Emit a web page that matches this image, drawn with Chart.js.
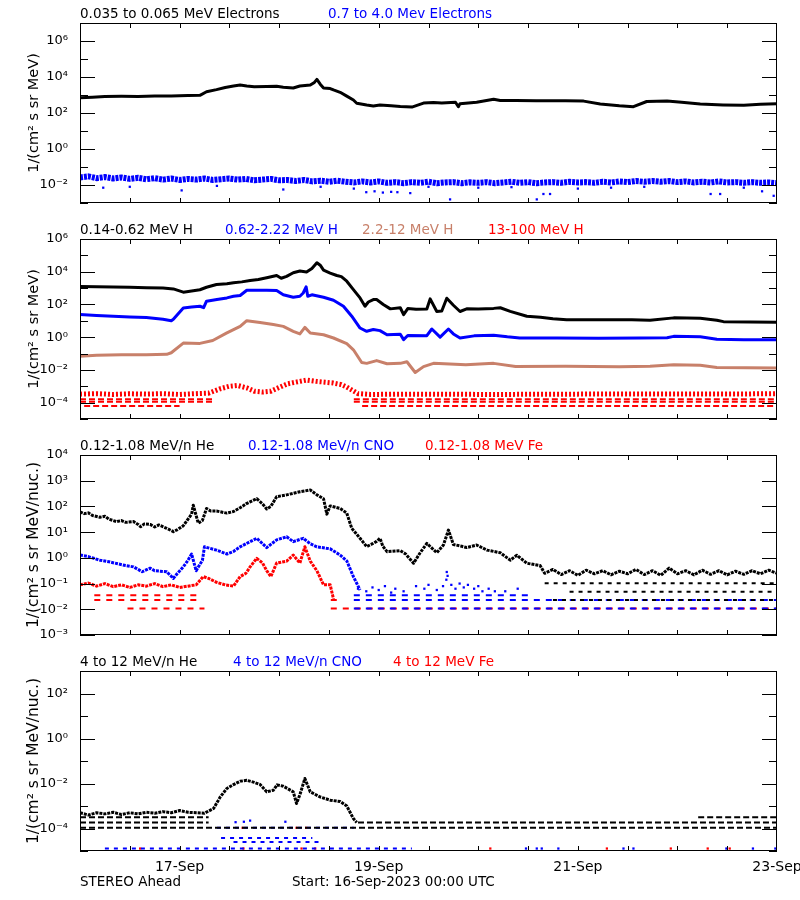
<!DOCTYPE html>
<html>
<head>
<meta charset="utf-8">
<script src="https://cdn.jsdelivr.net/npm/chart.js@4.4.0/dist/chart.umd.min.js"></script>
<style>
body { margin: 0; background: #fff; }
#page { position: relative; width: 800px; height: 900px; overflow: hidden; background: #fff;
        font-family: "DejaVu Sans", sans-serif; font-size: 13.5px; }
#page canvas { position: absolute; left: 0; }
.t { position: absolute; white-space: nowrap; line-height: 16px; }
</style>
</head>
<body>
<div id="page">
  <canvas id="c1" width="830" height="200" style="top:13px;width:830px;height:200px"></canvas>
  <canvas id="c2" width="830" height="200" style="top:229px;width:830px;height:200px"></canvas>
  <canvas id="c3" width="830" height="200" style="top:445px;width:830px;height:200px"></canvas>
  <canvas id="c4" width="830" height="220" style="top:661px;width:830px;height:220px"></canvas>

  <div class="t" style="top:5px;left:80px;color:#000">0.035 to 0.065 MeV Electrons</div>
  <div class="t" style="top:5px;left:328px;color:#0000ff">0.7 to 4.0 Mev Electrons</div>

  <div class="t" style="top:221px;left:80px;color:#000">0.14-0.62 MeV H</div>
  <div class="t" style="top:221px;left:225px;color:#0000ff">0.62-2.22 MeV H</div>
  <div class="t" style="top:221px;left:362px;color:#c8806a">2.2-12 MeV H</div>
  <div class="t" style="top:221px;left:488px;color:#ff0000">13-100 MeV H</div>

  <div class="t" style="top:437px;left:80px;color:#000">0.12-1.08 MeV/n He</div>
  <div class="t" style="top:437px;left:248px;color:#0000ff">0.12-1.08 MeV/n CNO</div>
  <div class="t" style="top:437px;left:425px;color:#ff0000">0.12-1.08 MeV Fe</div>

  <div class="t" style="top:653px;left:80px;color:#000">4 to 12 MeV/n He</div>
  <div class="t" style="top:653px;left:233px;color:#0000ff">4 to 12 MeV/n CNO</div>
  <div class="t" style="top:653px;left:393px;color:#ff0000">4 to 12 MeV Fe</div>

  <div class="t" style="top:873px;left:80px">STEREO Ahead</div>
  <div class="t" style="top:873px;left:292px">Start: 16-Sep-2023 00:00 UTC</div>
</div>

<script>
// x is hours after 16-Sep-2023 00:00, y values are log10 of the flux
const hourTicks = [12, 24, 36, 48, 60, 72, 84, 96, 108, 120, 132, 144, 156];
const dayHours = [24, 72, 120, 168];
const dayLabels = ['17-Sep', '19-Sep', '21-Sep', '23-Sep'];

// ---- panel 1 : electrons
const elecLow = [[0,2.85],[3,2.88],[6,2.92],[10,2.93],[14,2.92],[18,2.94],[22,2.95],[26,2.97],[28.9,2.98],[30.5,3.18],[32.9,3.3],[35,3.42],[37,3.5],[38.6,3.55],[40.2,3.5],[42,3.46],[45,3.47],[47.4,3.48],[49,3.43],[51.4,3.39],[53,3.5],[55.5,3.55],[56.5,3.7],[57.1,3.87],[57.9,3.6],[58.7,3.39],[60.3,3.36],[61.1,3.28],[62.7,3.15],[64.3,2.94],[65.9,2.72],[66.7,2.54],[69.1,2.44],[70.7,2.39],[72.3,2.44],[75,2.4],[77.2,2.36],[80,2.33],[82.8,2.55],[85.2,2.58],[87.2,2.55],[90.5,2.6],[91.2,2.35],[91.6,2.52],[95.6,2.6],[99.7,2.76],[101.3,2.7],[105,2.69],[110,2.68],[117,2.68],[121.4,2.66],[125.4,2.5],[130,2.4],[133.4,2.35],[136.6,2.64],[141.5,2.66],[145,2.6],[149.5,2.5],[155,2.45],[160,2.43],[164,2.48],[168,2.52]];
const elecHigh = [[0,-1.58],[2,-1.52],[4,-1.62],[6,-1.56],[8,-1.64],[10,-1.58],[12,-1.66],[14,-1.6],[16,-1.68],[18,-1.62],[20,-1.7],[22,-1.64],[24,-1.72],[26,-1.66],[28,-1.7],[30,-1.64],[32,-1.72],[34,-1.68],[36,-1.64],[38,-1.7],[40,-1.66],[42,-1.74],[44,-1.7],[46,-1.66],[48,-1.74],[50,-1.72],[52,-1.78],[54,-1.72],[56,-1.8],[58,-1.76],[60,-1.82],[62,-1.76],[64,-1.82],[66,-1.86],[68,-1.8],[70,-1.86],[72,-1.8],[74,-1.88],[76,-1.84],[78,-1.9],[80,-1.84],[82,-1.88],[84,-1.82],[86,-1.9],[88,-1.86],[90,-1.84],[92,-1.9],[94,-1.85],[96,-1.88],[98,-1.84],[100,-1.9],[102,-1.86],[104,-1.82],[106,-1.88],[108,-1.84],[110,-1.9],[112,-1.86],[114,-1.84],[116,-1.88],[118,-1.82],[120,-1.86],[122,-1.84],[124,-1.88],[126,-1.82],[128,-1.86],[130,-1.8],[132,-1.84],[134,-1.78],[136,-1.82],[138,-1.78],[140,-1.82],[142,-1.78],[144,-1.84],[146,-1.8],[148,-1.86],[150,-1.82],[152,-1.86],[154,-1.8],[156,-1.86],[158,-1.84],[160,-1.88],[162,-1.84],[164,-1.88],[166,-1.86],[168,-1.9]];
const elecHighLow = [[5.6,-2.15],[12,-2.1],[24.5,-2.3],[33,-2.05],[49,-2.25],[58,-2.1],[66,-2.2],[69,-2.4],[71,-2.35],[73,-2.42],[75,-2.38],[76.5,-2.4],[79.6,-2.45],[84,-2.1],[89.2,-2.8],[96,-2.15],[104,-2.12],[110.1,-2.8],[111.7,-2.5],[113.3,-2.5],[120,-2.2],[128,-2.15],[136,-2.1],[152,-2.5],[154.3,-2.5],[160,-2.15],[164.4,-2.35],[167.2,-2.6]];

// ---- panel 2 : protons
const hLow = [[0,3.1],[4,3.08],[8,3.06],[12,3.05],[16,3.02],[20,3.0],[22.5,2.95],[24.9,2.75],[26.9,2.82],[28.9,2.9],[30.5,3.05],[32.9,3.22],[35.4,3.27],[37,3.32],[39,3.38],[41,3.47],[43,3.52],[45,3.63],[47.4,3.77],[48.5,3.6],[49.8,3.72],[51.4,3.94],[53,4.04],[54.6,3.98],[55.9,4.2],[57.1,4.55],[57.9,4.4],[58.7,4.1],[60.3,3.92],[61.9,3.77],[63,3.7],[64.3,3.42],[65.9,2.91],[67.5,2.4],[68.7,1.89],[69.5,2.15],[70.7,2.3],[71.5,2.3],[73.1,2.0],[74.8,1.73],[77.2,1.8],[78,1.38],[79,1.75],[81,1.7],[83.6,1.72],[84.4,2.34],[86,1.57],[87.2,1.6],[88.4,2.38],[90,1.95],[91.6,1.57],[93.2,1.73],[96,1.72],[99.7,1.76],[101.3,1.8],[103.7,1.58],[107.7,1.28],[111,1.22],[114,1.12],[117.3,1.07],[125,1.07],[133,1.06],[137.4,1.04],[143.1,1.18],[149.5,1.16],[153.5,1.04],[155.1,0.95],[168,0.92]];
const hMid = [[0,1.38],[4,1.32],[8,1.28],[12,1.24],[16,1.2],[20,1.1],[22,1.01],[22.5,1.1],[24.9,1.79],[26.9,1.85],[28.9,1.89],[29.8,1.8],[30.5,2.2],[33,2.3],[35.4,2.4],[37,2.5],[38.6,2.55],[40.2,2.87],[43,2.87],[45,2.87],[47.4,2.85],[49,2.59],[51.4,2.44],[53,2.5],[53.8,2.7],[54.5,3.08],[54.9,2.5],[55.9,2.59],[58.7,2.44],[61.1,2.26],[63.5,1.89],[65.5,1.28],[67.5,0.56],[69.1,0.36],[70.7,0.47],[72.3,0.4],[74,0.15],[77.2,0.18],[78,-0.15],[79,0.1],[83.6,0.09],[84.8,0.5],[86.8,0.0],[88.8,0.5],[90,0.2],[91.6,-0.05],[95,0.08],[99.7,0.12],[103,0.02],[106,-0.05],[115,-0.05],[125,-0.06],[135,-0.05],[141.5,-0.04],[143.1,0.05],[149.5,0.02],[153.5,-0.12],[160,-0.15],[168,-0.15]];
const hHigh = [[0,-1.17],[4,-1.1],[10,-1.07],[16,-1.08],[20.9,-1.05],[22,-0.95],[24.9,-0.36],[28.9,-0.38],[32,-0.2],[35.4,0.26],[38.6,0.66],[40.2,1.01],[43.4,0.9],[46.6,0.77],[49,0.66],[51.4,0.36],[53,0.2],[54.2,0.6],[55.5,0.25],[58.7,0.15],[61.1,-0.05],[64.3,-0.4],[65.9,-0.77],[67.9,-1.55],[69.1,-1.6],[71.5,-1.43],[74,-1.62],[77.2,-1.6],[78.8,-1.5],[80.8,-2.16],[82.8,-1.8],[85.2,-1.6],[93,-1.69],[99.7,-1.6],[105,-1.79],[117,-1.77],[130,-1.8],[137.4,-1.77],[143.1,-1.69],[149.5,-1.72],[153.5,-1.85],[168,-1.89]];
const hTop = [[0,-3.48],[4,-3.45],[8,-3.5],[12,-3.46],[16,-3.48],[20,-3.45],[24,-3.5],[28,-3.45],[31,-3.42],[33.8,-3.15],[36,-3.0],[38,-2.95],[40.2,-3.1],[42,-3.3],[44,-3.35],[46,-3.3],[48.2,-3.05],[50,-2.85],[52,-2.75],[54.7,-2.62],[57,-2.7],[59,-2.75],[61,-2.8],[63,-2.9],[64.3,-3.05],[66,-3.3],[67,-3.45],[70,-3.5],[80,-3.48],[100,-3.5],[120,-3.48],[140,-3.47],[160,-3.47],[168,-3.45]];
const hTopRows = [[-3.79, [[0,32],[66,168]]], [-3.94, [[0,32],[66,168]]], [-4.2, [[1,24],[68,168]]]];

// ---- panel 3 : low energy ions
const heLow = [[0,1.79],[1,1.72],[2,1.75],[3,1.65],[4.8,1.58],[6,1.62],[7,1.5],[8.8,1.41],[10,1.45],[11,1.38],[12.9,1.41],[14,1.3],[14.6,1.21],[15.5,1.32],[16.9,1.3],[18,1.2],[19,1.28],[20.9,1.15],[22.5,1.02],[23.5,1.1],[24.9,1.25],[26,1.5],[26.9,1.7],[27.3,2.05],[28.5,1.35],[29.5,1.45],[30.5,1.92],[31.5,1.82],[32.9,1.82],[35.4,1.74],[37,1.8],[38.6,1.95],[40,2.1],[41,2.18],[42.6,2.3],[44,2.1],[45,1.9],[46,2.0],[47.4,2.38],[49.8,2.45],[51.4,2.51],[53,2.57],[54.2,2.6],[55.5,2.64],[56.5,2.52],[57.1,2.45],[58.7,2.3],[59.5,1.7],[60.3,2.02],[62.7,1.92],[64.3,1.74],[65.5,1.15],[67.5,0.76],[69.1,0.44],[70.5,0.55],[71.5,0.64],[72.3,0.76],[73,0.45],[74,0.24],[77.2,0.28],[78.5,0.15],[80.4,-0.21],[82,0.2],[83.6,0.56],[85,0.35],[86,0.2],[87.6,0.5],[88.8,1.08],[90,0.52],[92,0.45],[93.2,0.4],[95.6,0.5],[98.1,0.3],[99.7,0.25],[101.3,0.2],[103.7,-0.09],[105.3,0.1],[107.7,-0.21],[110.9,-0.3],[112,-0.6],[114,-0.45],[116,-0.65],[118,-0.5],[120,-0.68],[122,-0.48],[124,-0.62],[126,-0.5],[128,-0.66],[130,-0.52],[132,-0.62],[134,-0.45],[136,-0.65],[138,-0.5],[140,-0.68],[142,-0.4],[144,-0.62],[146,-0.5],[148,-0.66],[150,-0.48],[152,-0.64],[154,-0.5],[156,-0.66],[158,-0.52],[160,-0.64],[162,-0.5],[164,-0.62],[166,-0.48],[168,-0.6]];
const heLowRows = [[-0.99, [[112,168]]], [-1.32, [[118,168]]], [-1.64, [[114,168]]]];
const cnoLow = [[0,0.11],[2,0.05],[4.8,-0.09],[7,-0.15],[8.8,-0.22],[11,-0.3],[12.9,-0.35],[14,-0.45],[15,-0.54],[16.9,-0.4],[18,-0.5],[20.9,-0.54],[22.5,-0.8],[23.5,-0.6],[24.9,-0.35],[26,-0.1],[26.9,0.15],[28,-0.5],[28.9,-0.25],[29.5,-0.1],[30,0.43],[32.9,0.3],[35.4,0.15],[37,0.25],[38.6,0.43],[41,0.63],[42.6,0.76],[44,0.55],[45,0.4],[47.4,0.7],[49.8,0.82],[51.4,0.63],[53.8,0.76],[55.5,0.55],[57.1,0.43],[60.3,0.35],[62.7,0.11],[64.3,-0.12],[65.9,-0.73],[67.5,-1.25]];
const cnoLowDots = [[67,-1.2],[69,-1.3],[70.5,-1.15],[72,-1.25],[73.5,-1.1],[75,-1.35],[76,-1.2],[78,-1.3],[81,-1.1],[83,-1.2],[84,-1.05],[86,-1.25],[87.5,-1.1],[88.4,-0.55],[88.6,-0.7],[88.3,-0.85],[89.5,-1.05],[90.5,-1.2],[91.5,-1.0],[92.5,-1.15],[93.5,-1.05],[95,-1.2],[96,-1.1],[97,-1.3],[98.5,-1.2],[100,-1.3],[102.5,-1.3],[105.5,-1.2]];
const cnoLowRows = [[-1.45, [[66,108]]], [-1.64, [[66,168]]], [-1.97, [[66,168]]]];
const feLow = [[0,-1.05],[2,-0.98],[4,-1.1],[6,-1.0],[8,-1.12],[10,-1.05],[12,-1.15],[14,-1.05],[16,-1.1],[18,-1.0],[20,-1.12],[22,-1.05],[24,-1.15],[26,-1.1],[28,-1.05],[29.7,-0.73],[31,-0.8],[32.9,-0.95],[35,-1.05],[37,-1.1],[38.6,-0.73],[40,-0.6],[41,-0.35],[42.6,-0.02],[44,-0.2],[45,-0.5],[46,-0.73],[47.4,-0.2],[49.8,-0.13],[51.4,0.11],[53,-0.2],[54.2,0.43],[55.5,-0.13],[57.1,-0.5],[58.7,-1.05],[60.3,-1.05],[61.1,-1.6]];
const feLowRows = [[-1.45, [[2,29]]], [-1.64, [[2,29],[59,62]]], [-1.97, [[10,30],[59,168]]]];

// ---- panel 4 : high energy ions
const he4 = [[0,-3.3],[2,-3.4],[4,-3.3],[6,-3.35],[8,-3.28],[10,-3.38],[12,-3.3],[14,-3.35],[16,-3.28],[18,-3.32],[20,-3.25],[22,-3.3],[24,-3.2],[26,-3.28],[28,-3.3],[30,-3.32],[32.2,-3.11],[33.8,-2.6],[35.4,-2.22],[37,-2.05],[38.6,-1.9],[40.2,-1.86],[42,-1.95],[43.4,-2.04],[45,-2.37],[46.6,-2.3],[47.5,-2.06],[49,-2.12],[51.4,-2.37],[52.2,-2.89],[53,-2.5],[54.2,-1.78],[55.5,-2.37],[57.9,-2.6],[60.3,-2.74],[62.7,-2.8],[64.3,-3.0],[65.9,-3.56],[66.7,-3.73]];
const he4Rows = [[-3.5, [[0,31],[149,168]]], [-3.73, [[0,31],[67,168]]], [-3.97, [[0,168]]]];
const cno4Rows = [[-3.97, [[33,66]]], [-4.42, [[34,56]]], [-4.6, [[37,58]]], [-4.89, [[6,80]]]];
const cno4Dots = [[37.5,-3.72],[39.5,-3.7],[41,-3.65],[49.5,-3.7],[107.5,-4.89],[110.1,-4.89],[111.3,-4.89],[115.3,-4.89],[131,-4.89],[133.4,-4.89],[155.8,-4.89],[162.2,-4.89],[167.6,-4.89]];
const fe4Dots = [[14.5,-4.89],[39.4,-4.89],[53.4,-4.89],[56.7,-4.89],[98.9,-4.89],[127,-4.89],[142.4,-4.89],[151.3,-4.89],[156.6,-4.89],[39.2,-3.97],[52.2,-3.97],[54.5,-3.97]];

const BLACK = '#000000', BLUE = '#0000ff', BROWN = '#c8806a', RED = '#ff0000';
const FONT = 'DejaVu Sans';
const SUP = {'-':'\u207b','0':'\u2070','1':'\u00b9','2':'\u00b2','3':'\u00b3','4':'\u2074','5':'\u2075','6':'\u2076','7':'\u2077','8':'\u2078','9':'\u2079'};
const pow10Label = e => '10' + String(e).split('').map(c => SUP[c]).join('');

const toPts = a => a.map(([h, v]) => ({x: h, y: v == null ? null : Math.pow(10, v)}));
const line = (d, color, width, dash) => ({data: toPts(d), borderColor: color, borderWidth: width,
  borderDash: dash || [], borderJoinStyle: 'round', pointRadius: 0, fill: false});
const dots = (d, color) => ({data: toPts(d), showLine: false, pointRadius: 1.6, pointStyle: 'rect',
  pointBackgroundColor: color, pointBorderWidth: 0, borderColor: color});
const rows = (list, color, dash, offset) => list.map(([lv, spans]) => ({
  data: spans.flatMap(([a, b]) => [{x: a, y: Math.pow(10, lv)}, {x: b, y: Math.pow(10, lv)}, {x: b, y: null}]),
  borderColor: color, borderWidth: 2, borderDash: dash, borderDashOffset: offset || 0, pointRadius: 0, fill: false
}));

function frame(lo, hi, major) {
  return {
    id: 'frame',
    afterDatasetsDraw(chart) {
      const {ctx, chartArea: a} = chart;
      const x = chart.scales.x, y = chart.scales.y;
      ctx.save();
      ctx.strokeStyle = '#000';
      ctx.lineWidth = 1;
      ctx.strokeRect(a.left + 0.5, a.top + 0.5, a.right - a.left - 1, a.bottom - a.top - 1);
      ctx.beginPath();
      for (let e = lo; e <= hi; e++) {
        const py = Math.round(y.getPixelForValue(Math.pow(10, e))) + 0.5;
        const len = major.includes(e) ? 15 : 8;
        ctx.moveTo(a.left, py); ctx.lineTo(a.left + len, py);
        ctx.moveTo(a.right, py); ctx.lineTo(a.right - len, py);
      }
      hourTicks.forEach(h => {
        const px = Math.round(x.getPixelForValue(h)) + 0.5;
        ctx.moveTo(px, a.top); ctx.lineTo(px, a.top + 5);
        ctx.moveTo(px, a.bottom); ctx.lineTo(px, a.bottom - 5);
      });
      ctx.stroke();
      ctx.restore();
    }
  };
}

function panel(id, datasets, lo, hi, major, yTitle, titleSize, showX) {
  return new Chart(document.getElementById(id), {
    type: 'line',
    data: {datasets},
    plugins: [frame(lo, hi, major)],
    options: {
      responsive: false,
      devicePixelRatio: 1,
      animation: false,
      events: [],
      layout: {padding: {top: 10, bottom: showX ? 0 : 10, left: 0, right: 53}},
      plugins: {legend: {display: false}, tooltip: {enabled: false}},
      scales: {
        x: {
          type: 'linear', min: 0, max: 168, display: showX,
          afterBuildTicks: s => { s.ticks = dayHours.map(h => ({value: h})); },
          afterFit: s => { s.height = showX ? 30 : 0; s.paddingLeft = 0; s.paddingRight = 0; },
          grid: {display: false}, border: {display: false},
          ticks: {autoSkip: false, maxRotation: 0, padding: 0, color: '#000', font: {family: FONT, size: 14},
                  callback: v => dayLabels[dayHours.indexOf(v)]}
        },
        y: {
          type: 'logarithmic', min: Math.pow(10, lo), max: Math.pow(10, hi),
          afterBuildTicks: s => { s.ticks = major.map(e => ({value: Math.pow(10, e)})); },
          afterFit: s => { s.width = 80; s.paddingTop = 0; s.paddingBottom = 0; },
          grid: {display: false}, border: {display: false},
          ticks: {autoSkip: false, padding: 4, color: '#000', font: {family: FONT, size: 13},
                  callback: v => pow10Label(Math.round(Math.log10(v)))},
          title: {display: true, text: yTitle, color: '#000', font: {family: FONT, size: titleSize},
                  padding: {top: 34 - titleSize * 0.6, bottom: 0}}
        }
      }
    }
  });
}

panel('c1', [
  line(elecLow, BLACK, 3),
  line(elecHigh, BLUE, 6, [3, 1]),
  dots(elecHighLow, BLUE)
], -3, 7, [-2, 0, 2, 4, 6], '1/(cm\u00b2 s sr MeV)', 14.5, false);

panel('c2', [
  line(hLow, BLACK, 3),
  line(hMid, BLUE, 3),
  line(hHigh, BROWN, 3),
  line(hTop, RED, 5, [2, 2]),
  ...rows(hTopRows, RED, [6, 3])
], -5, 6, [-4, -2, 0, 2, 4, 6], '1/(cm\u00b2 s sr MeV)', 14.5, false);

panel('c3', [
  ...rows(heLowRows, BLACK, [4, 5]),
  ...rows(cnoLowRows, BLUE, [6, 6]),
  ...rows(feLowRows, RED, [6, 6], 6),
  line(heLow, BLACK, 3, [3, 1]),
  line(cnoLow, BLUE, 3, [3, 1]),
  dots(cnoLowDots, BLUE),
  line(feLow, RED, 3, [3, 1])
], -3, 4, [-3, -2, -1, 0, 1, 2, 3, 4], '1/(cm\u00b2 s sr MeV/nuc.)', 15.5, false);

panel('c4', [
  ...rows(he4Rows, BLACK, [6, 3]),
  ...rows(cno4Rows, BLUE, [4, 5]),
  line(he4, BLACK, 3, [3, 1]),
  dots(cno4Dots, BLUE),
  dots(fe4Dots, RED)
], -5, 3, [-4, -2, 0, 2], '1/(cm\u00b2 s sr MeV/nuc.)', 15.5, true);
</script>
</body>
</html>
